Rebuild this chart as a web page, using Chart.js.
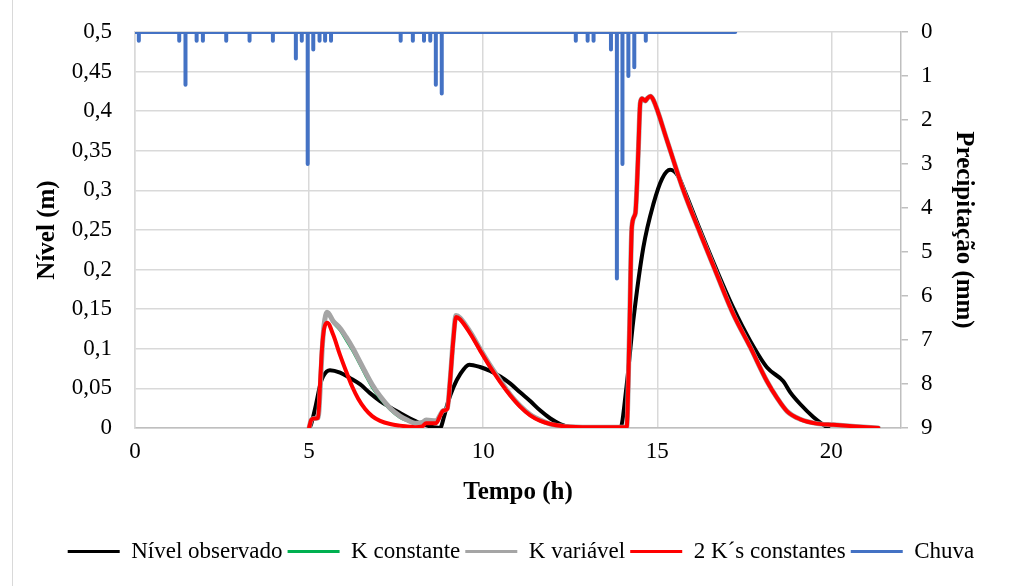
<!DOCTYPE html>
<html lang="pt">
<head>
<meta charset="UTF-8">
<title>Nível e precipitação</title>
<script src="https://cdn.jsdelivr.net/npm/chart.js"></script>
<style>
  body { margin: 0; background: #fff; }
  .wrap { position: relative; width: 1016px; height: 586px; }
  .frame { position: absolute; left: 12px; top: 0; bottom: 0; border-left: 1px solid #d9d9d9; }
  canvas { position: absolute; left: 0; top: 0; }
</style>
</head>
<body>
<div class="wrap">
  <div class="frame"></div>
  <canvas id="grafico" width="1016" height="586"></canvas>
</div>
<script>
// nível observado (h, m)
const obsT = [5.00, 5.06, 5.20, 5.32, 5.40, 5.60, 5.89, 6.18, 6.47, 6.75, 7.04, 7.33, 7.61, 7.90, 8.19, 8.48, 8.76,
  8.88, 8.97, 9.14, 9.34, 9.60, 9.91, 10.20, 10.49, 10.78, 11.06, 11.35, 11.64, 11.93, 12.21, 12.50, 12.79,
  13.94, 14.11, 14.31, 14.60, 14.89, 15.14, 15.37, 15.60, 15.78, 16.24, 16.70, 17.18, 17.67, 18.16, 18.62,
  18.82, 19.11, 19.48, 19.74, 19.91];
const obsY = [0, 0.005, 0.030, 0.055, 0.065, 0.073, 0.070, 0.063, 0.055, 0.044, 0.034, 0.026, 0.019, 0.012, 0.006, 0.002, 0,
  0.015, 0.030, 0.051, 0.068, 0.080, 0.077, 0.072, 0.065, 0.056, 0.045, 0.034, 0.022, 0.012, 0.005, 0.001, 0,
  0, 0.050, 0.135, 0.228, 0.283, 0.315, 0.326, 0.318, 0.300, 0.249, 0.200, 0.152, 0.110, 0.076, 0.059,
  0.045, 0.030, 0.014, 0.005, 0];

// modelos simulados (mesmo passo de tempo)
const simT = [5.00, 5.06, 5.14, 5.26, 5.32, 5.37, 5.43, 5.52, 5.69, 5.89, 6.06, 6.24, 6.41, 6.61, 6.81, 7.04, 7.33,
  7.61, 7.82, 8.05, 8.25, 8.36, 8.65, 8.76, 8.85, 8.97, 9.05, 9.14, 9.22, 9.34, 9.63, 9.91, 10.20, 10.49,
  10.78, 11.06, 11.35, 11.64, 11.93, 12.36, 13.07, 14.12, 14.20, 14.27, 14.37, 14.42, 14.46, 14.51, 14.56,
  14.66, 14.71, 14.80, 14.89, 15.28, 15.75, 16.24, 16.70, 17.18, 17.67, 18.15, 18.44, 18.73, 19.11, 19.59,
  20.06, 20.69, 21.35];
const kConstY = [0, 0.010, 0.012, 0.013, 0.050, 0.095, 0.130, 0.145, 0.133, 0.123, 0.111, 0.098, 0.084, 0.067, 0.051, 0.037, 0.023,
  0.013, 0.009, 0.006, 0.007, 0.010, 0.009, 0.016, 0.022, 0.025, 0.060, 0.112, 0.142, 0.139, 0.121, 0.100, 0.079, 0.060,
  0.042, 0.028, 0.017, 0.010, 0.005, 0.002, 0.001, 0.001, 0.120, 0.254, 0.271, 0.310, 0.355, 0.410, 0.416,
  0.413, 0.416, 0.419, 0.414, 0.363, 0.300, 0.245, 0.195, 0.144, 0.102, 0.059, 0.038, 0.021, 0.011, 0.0055,
  0.004, 0.002, 0];
const kVarY = [0, 0.010, 0.012, 0.013, 0.050, 0.095, 0.130, 0.146, 0.135, 0.126, 0.115, 0.102, 0.088, 0.071, 0.055, 0.040, 0.025,
  0.015, 0.010, 0.006, 0.007, 0.010, 0.009, 0.016, 0.022, 0.025, 0.060, 0.112, 0.142, 0.139, 0.121, 0.100, 0.079, 0.060,
  0.042, 0.028, 0.017, 0.010, 0.005, 0.002, 0.001, 0.001, 0.120, 0.254, 0.271, 0.310, 0.355, 0.410, 0.416,
  0.413, 0.416, 0.419, 0.414, 0.363, 0.300, 0.245, 0.195, 0.144, 0.102, 0.059, 0.038, 0.021, 0.011, 0.0055,
  0.004, 0.002, 0];
const doisKY = [0, 0.010, 0.012, 0.013, 0.060, 0.100, 0.125, 0.133, 0.118, 0.092, 0.072, 0.052, 0.037, 0.024, 0.015, 0.009, 0.005,
  0.003, 0.002, 0.001, 0.002, 0.006, 0.006, 0.015, 0.022, 0.024, 0.060, 0.110, 0.140, 0.137, 0.119, 0.098, 0.077, 0.058,
  0.041, 0.027, 0.016, 0.009, 0.005, 0.002, 0.001, 0.001, 0.120, 0.254, 0.271, 0.310, 0.355, 0.410, 0.416,
  0.413, 0.416, 0.419, 0.414, 0.363, 0.300, 0.245, 0.195, 0.144, 0.102, 0.059, 0.038, 0.021, 0.011, 0.0055,
  0.004, 0.002, 0];

// chuva (h, mm)
const chuvaT = [0.11, 1.27, 1.45, 1.77, 1.95, 2.62, 3.29, 3.96, 4.62, 4.79, 4.96, 5.12, 5.30, 5.46, 5.63,
  7.63, 7.98, 8.30, 8.48, 8.64, 8.81, 12.66, 13.00, 13.17, 13.67, 13.84, 14.00, 14.17, 14.34, 14.67];
const chuvaMm = [0.2, 0.2, 1.2, 0.2, 0.2, 0.2, 0.2, 0.2, 0.6, 0.2, 3.0, 0.4, 0.2, 0.2, 0.2,
  0.2, 0.2, 0.2, 0.2, 1.2, 1.4, 0.2, 0.2, 0.2, 0.4, 5.6, 3.0, 1.0, 0.8, 0.2];
const chuvaFim = 17.24;

const xTicks = [0, 5, 10, 15, 20];

const pares = (ts, ys) => ts.map((t, i) => ({ x: t, y: ys[i] }));

// hietograma como linha com picos
const chuvaPts = [{ x: 0, y: 0 }];
chuvaT.forEach((t, i) => {
  chuvaPts.push({ x: t, y: 0 }, { x: t, y: chuvaMm[i] }, { x: t, y: 0 });
});
chuvaPts.push({ x: chuvaFim, y: 0 });

Chart.defaults.font.family = '"Liberation Serif", "Times New Roman", serif';
Chart.defaults.color = '#000';

const serie = (label, pts, cor, larg, ordem, eixo) => ({
  label: label,
  data: pts,
  borderColor: cor,
  backgroundColor: cor,
  borderWidth: larg,
  pointRadius: 0,
  cubicInterpolationMode: 'monotone',
  borderCapStyle: 'round',
  borderJoinStyle: 'round',
  order: ordem,
  yAxisID: eixo
});

const chuvaSet = serie('Chuva', chuvaPts, '#4472C4', 4, 0, 'y2');
chuvaSet.cubicInterpolationMode = 'default';
chuvaSet.tension = 0;

// sem folga extra de rótulos no topo/base dos eixos verticais
const semFolga = s => { s.paddingTop = 0; s.paddingBottom = 0; };

new Chart(document.getElementById('grafico'), {
  type: 'line',
  data: {
    datasets: [
      serie('Nível observado', pares(obsT, obsY), '#000000', 4, 4, 'y'),
      serie('K constante', pares(simT, kConstY), '#00B050', 2.5, 3, 'y'),
      serie('K variável', pares(simT, kVarY), '#A5A5A5', 5, 2, 'y'),
      serie('2 K´s constantes', pares(simT, doisKY), '#FF0000', 4, 1, 'y'),
      chuvaSet
    ]
  },
  options: {
    responsive: false,
    animation: false,
    layout: { padding: { top: 32, bottom: 13, left: 26, right: 0 } },
    plugins: {
      tooltip: { enabled: false },
      legend: {
        position: 'bottom',
        labels: {
          font: { size: 23 },
          boxWidth: 52,
          boxHeight: 3,
          padding: 5,
          sort: (a, b) => a.datasetIndex - b.datasetIndex,
          generateLabels: chart => Chart.defaults.plugins.legend.labels.generateLabels(chart)
            .map(l => Object.assign(l, { lineWidth: 0, fillStyle: l.strokeStyle }))
        }
      }
    },
    scales: {
      x: {
        type: 'linear',
        min: 0,
        max: 22,
        afterBuildTicks: s => { s.ticks = xTicks.map(v => ({ value: v })); },
        afterFit: s => { s.height = 107; },
        ticks: { font: { size: 23 }, padding: 10 },
        grid: { color: '#d9d9d9', lineWidth: 1.5, drawTicks: false },
        border: { color: '#bfbfbf', width: 1.5 },
        title: { display: true, text: 'Tempo (h)', font: { size: 25, weight: 'bold' }, padding: { top: 0, bottom: 27 } }
      },
      y: {
        position: 'left',
        min: 0,
        max: 0.5,
        afterFit: s => { s.width = 109; semFolga(s); },
        ticks: {
          stepSize: 0.05,
          font: { size: 23 },
          padding: 23,
          callback: v => String(Math.round(v * 100) / 100).replace('.', ',')
        },
        grid: { color: '#d9d9d9', lineWidth: 1.5, drawTicks: false },
        border: { color: '#d9d9d9', width: 1.5 },
        title: { display: true, text: 'Nível (m)', font: { size: 25, weight: 'bold' }, padding: { top: 7, bottom: 0 } }
      },
      y2: {
        position: 'right',
        min: 0,
        max: 9,
        reverse: true,
        afterFit: s => { s.width = 115; semFolga(s); },
        ticks: { stepSize: 1, font: { size: 23 }, padding: 13 },
        grid: { drawOnChartArea: false, color: '#bfbfbf', lineWidth: 1.5, tickLength: 7 },
        border: { color: '#bfbfbf', width: 1.5 },
        title: { display: true, text: 'Precipitação (mm)', font: { size: 25, weight: 'bold' }, padding: { top: 38, bottom: 0 } }
      }
    }
  }
});
</script>
</body>
</html>
